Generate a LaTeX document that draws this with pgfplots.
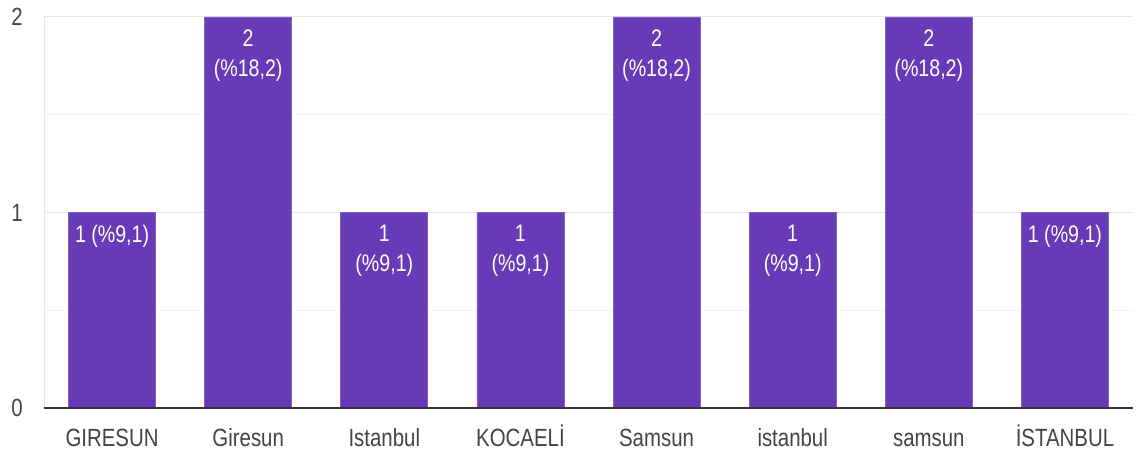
\documentclass[border=0pt]{standalone}
\usepackage{pgfplots}
\pgfplotsset{compat=1.18}
\usepackage{fontspec}
\setmainfont{Liberation Sans}[FakeStretch=0.82]
\definecolor{barc}{HTML}{673AB7}
\definecolor{baredge}{HTML}{8062C6}
\definecolor{tickc}{HTML}{444444}
\definecolor{gridmaj}{HTML}{E6E6E6}
\definecolor{gridmin}{HTML}{F3F3F3}
\definecolor{axisc}{HTML}{333333}
\protected\def\TL#1#2{#1\\#2}
\begin{document}
\begin{tikzpicture}
\begin{axis}[
  scale only axis,
  width=1089bp, height=391bp,
  xmin=-0.5, xmax=7.5, ymin=0, ymax=2,
  axis line style={draw=none},
  xtick={0,1,2,3,4,5,6,7},
  xticklabels={GIRESUN, Giresun, Istanbul, KOCAELİ, Samsun, istanbul, samsun, İSTANBUL},
  ytick={0,1,2},
  minor y tick num=1,
  major tick length=0pt, minor tick length=0pt,
  ymajorgrids, yminorgrids,
  major grid style={color=gridmaj, line width=1bp},
  minor grid style={color=gridmin, line width=1bp},
  /pgf/number format/assume math mode=true,
  tick label style={font=\fontsize{25}{30}\selectfont, text=tickc},
  yticklabel style={anchor=east, inner sep=0pt, xshift=-21bp},
  xticklabel style={anchor=north, inner sep=0pt, yshift=-20bp, text height=18bp, text depth=5bp},
  point meta=explicit symbolic,
  nodes near coords,
  nodes near coords style={anchor=north, inner sep=0pt, align=center, text=white,
    font=\fontsize{24}{30.5}\selectfont, yshift=-12bp},
  clip=false,
]
\addplot[ybar, bar width=87bp, fill=barc, draw=baredge, line width=0.8bp] coordinates {
  (0,1) [1 (\%9,1)]
  (1,2) [\TL{2}{(\%18,2)}]
  (2,1) [\TL{1}{(\%9,1)}]
  (3,1) [\TL{1}{(\%9,1)}]
  (4,2) [\TL{2}{(\%18,2)}]
  (5,1) [\TL{1}{(\%9,1)}]
  (6,2) [\TL{2}{(\%18,2)}]
  (7,1) [1 (\%9,1)]
};
\draw[color=gridmaj, line width=1bp] (rel axis cs:0,0) -- (rel axis cs:0,1);
\draw[color=axisc, line width=1.6bp] (rel axis cs:0,0) -- (rel axis cs:1,0);
\end{axis}
\pgfresetboundingbox
\useasboundingbox ([xshift=-44bp,yshift=-48bp]current axis.south west) rectangle ([xshift=6bp,yshift=17bp]current axis.north east);
\end{tikzpicture}
\end{document}
